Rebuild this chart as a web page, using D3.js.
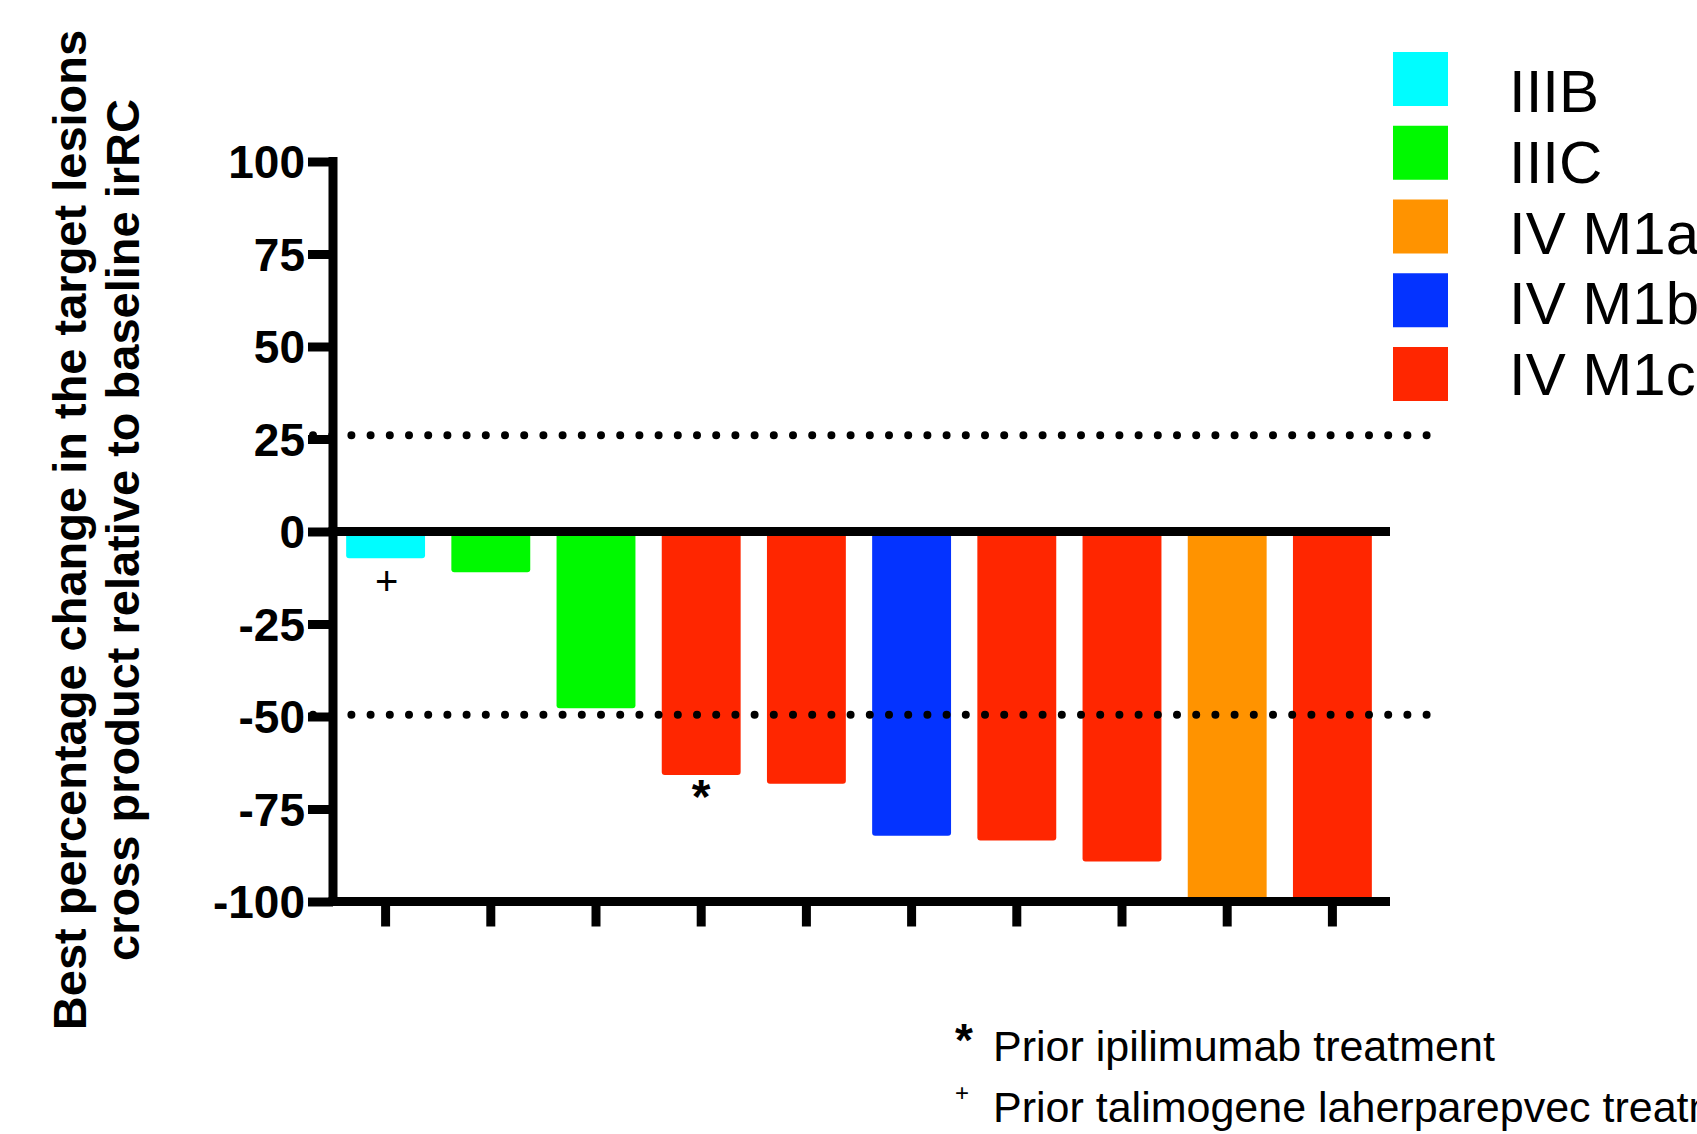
<!DOCTYPE html>
<html>
<head>
<meta charset="utf-8">
<script src="https://cdn.jsdelivr.net/npm/d3@7"></script>
<style>
  html, body { margin: 0; padding: 0; background: #fff; }
  svg { display: block; }
</style>
</head>
<body>
<script>
// ---------- data ----------
const patients = ["P1","P2","P3","P4","P5","P6","P7","P8","P9","P10"];
const values   = [-7.2, -11.0, -47.8, -65.8, -68.2, -82.2, -83.5, -89.2, -100, -100];
const stages   = ["IIIB","IIIC","IIIC","IV M1c","IV M1c","IV M1b","IV M1c","IV M1c","IV M1a","IV M1c"];
const marks    = ["+", "", "", "*", "", "", "", "", "", ""];
const stageNames  = ["IIIB","IIIC","IV M1a","IV M1b","IV M1c"];
const stageColors = ["#00FDFF","#00F900","#FF9300","#0433FF","#FF2600"];
const yTicks   = [100, 75, 50, 25, 0, -25, -50, -75, -100];
const refLines = [26, -49.5];
const titleLines = ["Best percentage change in the target lesions",
                    "cross product relative to baseline irRC"];
const footnotes = [{sym:"*", text:"Prior ipilimumab treatment"},
                   {sym:"+", text:"Prior talimogene laherparepvec treatment"}];

// ---------- layout ----------
const W = 1697, H = 1134;
const svg = d3.select("body").append("svg").attr("width", W).attr("height", H)
  .style("font-family", "'Liberation Sans', Arial, sans-serif");
svg.append("rect").attr("width", W).attr("height", H).attr("fill", "#fff");

const axisX = 333;
const y = d3.scaleLinear().domain([-100, 100]).range([901.5, 161.5]);
const x = d3.scaleBand().domain(patients).range([axisX, 1385])
  .paddingInner(0.25).paddingOuter(0.125);
const color = d3.scaleOrdinal().domain(stageNames).range(stageColors);
const lineEnd = 1390;
const LW = 9;

// bars
svg.append("g").selectAll("rect").data(patients).join("rect")
  .attr("x", d => x(d))
  .attr("width", x.bandwidth())
  .attr("y", y(0))
  .attr("height", (d, i) => y(values[i]) - y(0))
  .attr("rx", 3).attr("ry", 3)
  .attr("fill", (d, i) => color(stages[i]));

// bar annotations
svg.append("g").selectAll("text").data(patients.filter((d, i) => marks[i] === "+")).join("text")
  .attr("x", d => x(d) + x.bandwidth() / 2 + 1)
  .attr("y", d => y(values[patients.indexOf(d)]) + 37)
  .attr("text-anchor", "middle")
  .attr("font-size", 40).attr("fill", "#000")
  .text("+");
svg.append("g").selectAll("text").data(patients.filter((d, i) => marks[i] === "*")).join("text")
  .attr("x", d => x(d) + x.bandwidth() / 2)
  .attr("y", d => y(values[patients.indexOf(d)]) + 38)
  .attr("text-anchor", "middle")
  .attr("font-size", 48).attr("font-weight", 700).attr("fill", "#000")
  .text("*");

// y axis
const yAxis = d3.axisLeft(y).tickValues(yTicks).tickSize(25).tickPadding(3).tickSizeOuter(0)
  .tickFormat(d => String(d));
const gy = svg.append("g").attr("transform", `translate(${axisX},0)`).call(yAxis);
gy.select(".domain").remove();
gy.selectAll(".tick line").attr("stroke", "#000").attr("stroke-width", LW);
gy.selectAll(".tick text").attr("font-size", 46).attr("font-weight", 700)
  .attr("fill", "#000").attr("font-family", "'Liberation Sans', Arial, sans-serif")
  .attr("x", -28).attr("dy", "0.35em");

// x axis (ticks only)
const xAxis = d3.axisBottom(x).tickSize(25).tickSizeOuter(0).tickFormat("");
const gx = svg.append("g").attr("transform", `translate(0,${y(-100)})`).call(xAxis);
gx.select(".domain").remove();
gx.selectAll(".tick line").attr("stroke", "#000").attr("stroke-width", LW);

// axis lines
svg.append("line").attr("x1", axisX).attr("x2", axisX)
  .attr("y1", y(100) - LW / 2).attr("y2", y(-100) + LW / 2)
  .attr("stroke", "#000").attr("stroke-width", LW);
svg.append("line").attr("x1", axisX - LW / 2).attr("x2", lineEnd)
  .attr("y1", y(-100)).attr("y2", y(-100))
  .attr("stroke", "#000").attr("stroke-width", LW);
// zero line
svg.append("line").attr("x1", axisX - LW / 2).attr("x2", lineEnd)
  .attr("y1", y(0)).attr("y2", y(0))
  .attr("stroke", "#000").attr("stroke-width", LW);

// dotted reference lines
svg.append("g").selectAll("line").data(refLines).join("line")
  .attr("x1", 313).attr("x2", 1430)
  .attr("y1", d => y(d)).attr("y2", d => y(d))
  .attr("stroke", "#000").attr("stroke-width", 8)
  .attr("stroke-linecap", "round").attr("stroke-dasharray", "0,19.2");

// y title
const tg = svg.append("g").attr("transform", "translate(0,530)");
tg.selectAll("text").data(titleLines).join("text")
  .attr("transform", (d, i) => `translate(${86 + i * 53},0) rotate(-90)`)
  .attr("text-anchor", "middle")
  .attr("font-size", 47).attr("font-weight", 700).attr("fill", "#000")
  .text(d => d);

// legend
const legSw = d3.scalePoint().domain(stageNames).range([52, 347]);
const legTx = d3.scalePoint().domain(stageNames).range([112, 395]);
const lg = svg.append("g");
lg.selectAll("rect").data(stageNames).join("rect")
  .attr("x", 1393).attr("y", d => legSw(d))
  .attr("width", 55).attr("height", 54)
  .attr("fill", d => color(d));
lg.selectAll("text").data(stageNames).join("text")
  .attr("x", 1509).attr("y", d => legTx(d))
  .attr("font-size", 60).attr("fill", "#000")
  .text(d => d);

// footnotes
const fy = [1061, 1122];
svg.append("text").attr("x", 964).attr("y", 1056).attr("text-anchor", "middle")
  .attr("font-size", 46).attr("font-weight", 700).text(footnotes[0].sym);
svg.append("text").attr("x", 962).attr("y", 1101).attr("text-anchor", "middle")
  .attr("font-size", 24).text(footnotes[1].sym);
svg.append("g").selectAll("text").data(footnotes).join("text")
  .attr("x", 993).attr("y", (d, i) => fy[i])
  .attr("font-size", 43).attr("fill", "#000")
  .text(d => d.text);
</script>
</body>
</html>
